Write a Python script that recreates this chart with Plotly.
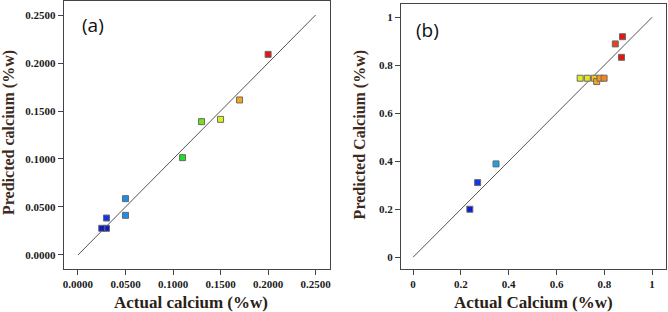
import plotly.graph_objects as go

# Panel (a)
a_actual = [0.200, 0.170, 0.150, 0.130, 0.110, 0.050, 0.050, 0.030, 0.030, 0.025]
a_pred = [0.209, 0.1615, 0.1413, 0.1389, 0.1014, 0.0587, 0.0413, 0.0385, 0.0278, 0.0278]
a_colors = ["#e81414", "#f5a51c", "#d8f01c", "#74e01a", "#1ee01e", "#1a8cf0", "#1a8cf0",
            "#1236f0", "#0c1cc0", "#0c1cc0"]

# Panel (b)
b_actual = [0.2375, 0.270, 0.347, 0.699, 0.729, 0.758, 0.768, 0.782, 0.799, 0.846, 0.876, 0.872]
b_pred = [0.200, 0.311, 0.389, 0.746, 0.746, 0.746, 0.732, 0.746, 0.746, 0.889, 0.919, 0.833]
b_colors = ["#0c1cd8", "#1236f0", "#1aa0e8", "#d8f01c", "#f0e01c", "#f5c41c", "#f5a51c",
            "#f59a1c", "#f5841c", "#e8401a", "#e81414", "#e81414"]

a_ticks = [0.0, 0.05, 0.10, 0.15, 0.20, 0.25]
a_ticklabels = ["0.0000", "0.0500", "0.1000", "0.1500", "0.2000", "0.2500"]
b_ticks = [0, 0.2, 0.4, 0.6, 0.8, 1]
b_ticklabels = ["0", "0.2", "0.4", "0.6", "0.8", "1"]

W, H = 668, 312
def px(x):
    return x / W
def py(y):
    return 1 - y / H

def bold(labels):
    return ["<b>%s</b>" % t for t in labels]

fig = go.Figure()

# diagonal lines
fig.add_trace(go.Scatter(x=[0, 0.25], y=[0, 0.25], mode="lines",
                         line=dict(color="#555555", width=1), xaxis="x", yaxis="y",
                         showlegend=False, hoverinfo="skip"))
fig.add_trace(go.Scatter(x=[0, 1], y=[0, 1], mode="lines",
                         line=dict(color="#555555", width=1), xaxis="x2", yaxis="y2",
                         showlegend=False, hoverinfo="skip"))

fig.add_trace(go.Scatter(x=a_actual, y=a_pred, mode="markers", xaxis="x", yaxis="y",
                         marker=dict(symbol="square", size=6, color=a_colors,
                                     line=dict(color="#6a6a6a", width=1)),
                         showlegend=False))
fig.add_trace(go.Scatter(x=b_actual, y=b_pred, mode="markers", xaxis="x2", yaxis="y2",
                         marker=dict(symbol="square", size=6, color=b_colors,
                                     line=dict(color="#6a6a6a", width=1)),
                         showlegend=False))

tickfont = dict(family="Liberation Serif", size=11, color="#1a1a1a")
common = dict(showline=True, linecolor="#444444", linewidth=1, mirror=True,
              ticks="outside", ticklen=5, tickwidth=1, tickcolor="#444444",
              showgrid=False, zeroline=False, tickfont=tickfont)

fig.update_layout(
    width=W, height=H,
    margin=dict(l=0, r=0, t=0, b=0),
    paper_bgcolor="white", plot_bgcolor="white",
    xaxis=dict(domain=[px(63), px(330)], range=[-0.0150, 0.2646],
               tickvals=a_ticks, ticktext=bold(a_ticklabels), anchor="y", **common),
    yaxis=dict(domain=[py(268.7), py(1)], range=[-0.0143, 0.2646],
               tickvals=a_ticks, ticktext=bold(a_ticklabels), anchor="x", **common),
    xaxis2=dict(domain=[px(401.7), px(667.5)], range=[-0.051, 1.056],
                tickvals=b_ticks, ticktext=bold(b_ticklabels), anchor="y2", **common),
    yaxis2=dict(domain=[py(269), py(4.3)], range=[-0.049, 1.054],
                tickvals=b_ticks, ticktext=bold(b_ticklabels), anchor="x2", **common),
)

title_font = dict(family="Liberation Serif", size=17, color="#2a2218")
ytitle_font = dict(family="Liberation Serif", size=16, color="#3d2a1c")

annos = [
    dict(text="<b>Actual calcium (%w)</b>", x=px(190.5), y=py(302), font=title_font),
    dict(text="<b>Predicted calcium (%w)</b>", x=px(8), y=py(132), font=ytitle_font, textangle=-90),
    dict(text="<b>Actual Calcium (%w)</b>", x=px(535), y=py(302), font=title_font),
    dict(text="<b>Predicted Calcium (%w)</b>", x=px(361), y=py(135), font=ytitle_font, textangle=-90),
    dict(text="(a)", x=px(92), y=py(25), font=dict(family="Open Sans", size=19, color="#111111")),
    dict(text="(b)", x=px(428), y=py(30), font=dict(family="Open Sans", size=19, color="#111111")),
]
for a in annos:
    a.update(xref="paper", yref="paper", showarrow=False, xanchor="center", yanchor="middle")
    fig.add_annotation(**a)

fig.write_html("out.html", config={"displayModeBar": False},
               post_script="document.body.style.margin='0px';")
